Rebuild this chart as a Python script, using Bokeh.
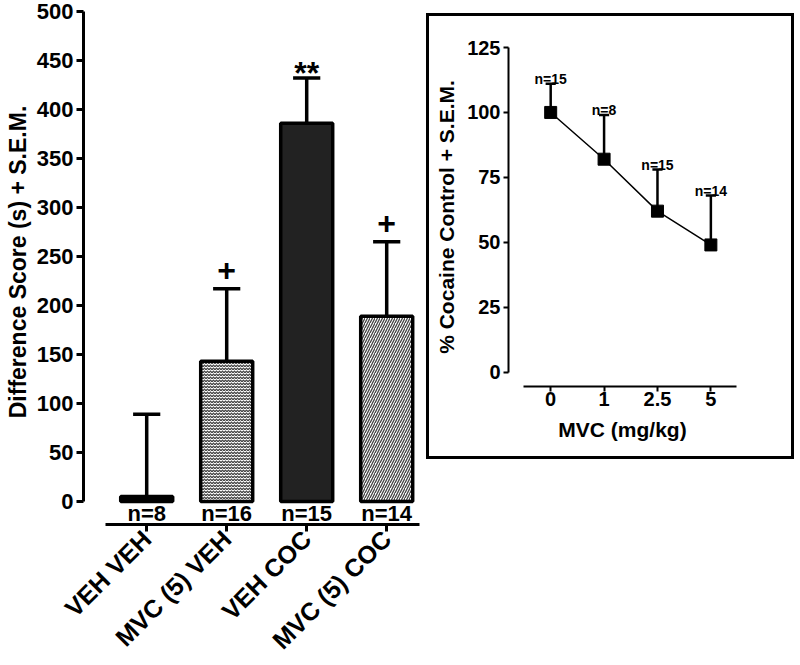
import math
from bokeh.plotting import figure
from bokeh.models import ColumnDataSource, Range1d, FixedTicker
from bokeh.layouts import row
from bokeh.core.properties import value
from bokeh.embed import file_html
from bokeh.resources import INLINE

# ---------------- data: main bar chart ----------------
groups = ["VEH VEH", "MVC (5) VEH", "VEH COC", "MVC (5) COC"]
diff_mean = [5, 143, 386, 189]
diff_upper = [89, 217, 432, 265]
group_n = ["n=8", "n=16", "n=15", "n=14"]
sig_plus = ["", "+", "", "+"]
sig_star = ["", "", "**", ""]
main_yticks = [0, 50, 100, 150, 200, 250, 300, 350, 400, 450, 500]

# ---------------- data: inset ----------------
doses = ["0", "1", "2.5", "5"]
pct_mean = [100, 82, 62, 49]
pct_upper = [111, 99, 78, 68]
dose_n = ["n=15", "n=8", "n=15", "n=14"]
inset_yticks = [0, 25, 50, 75, 100, 125]

# ---------------- styles ----------------
FONT = "Liberation Sans"
bar_fill = ["black", "white", "#222222", "white"]
bar_hatch = [" ", "horizontal_wave", " ", "right_diagonal_line"]
bar_hatch_scale = [4, 3, 5, 5]

xs = list(range(1, len(groups) + 1))
src = ColumnDataSource(dict(
    x=xs, top=diff_mean, upper=diff_upper, n=group_n,
    plus=sig_plus, star=sig_star, fill=bar_fill, hatch=bar_hatch, hs=bar_hatch_scale,
    cl=[x - 0.17 for x in xs], cr=[x + 0.17 for x in xs],
))

p = figure(frame_width=336, frame_height=525, x_range=Range1d(0.21, 4.41), y_range=Range1d(-23.5, 512.2),
           output_backend="svg", toolbar_location=None, title=None,
           min_border_left=83, min_border_right=7, min_border_top=0, min_border_bottom=167)
p.margin = (-32, 0, 0, 0)
p.outline_line_color = None
p.xgrid.grid_line_color = None
p.ygrid.grid_line_color = None

p.vbar(x="x", top="top", bottom=0, width=0.65, source=src, fill_color="fill",
       line_color="black", line_width=3.5, hatch_pattern="hatch", hatch_color="#444444",
       hatch_scale="hs", hatch_weight=1.3)
p.segment(x0="x", y0="top", x1="x", y1="upper", source=src, line_color="black", line_width=3.5)
p.segment(x0="cl", y0="upper", x1="cr", y1="upper", source=src, line_color="black", line_width=3.5)

p.text(x="x", y=0, text="n", source=src, y_offset=12, text_align="center",
       text_baseline="middle", text_font=value(FONT), text_font_style="bold",
       text_font_size="22px", text_color="black")
p.text(x="x", y="upper", text="plus", source=src, y_offset=-19, text_align="center",
       text_baseline="middle", text_font=value(FONT), text_font_style="bold",
       text_font_size="32px", text_color="black")
p.text(x="x", y="upper", text="star", source=src, y_offset=-5, text_align="center",
       text_baseline="alphabetic", text_font=value(FONT), text_font_style="bold",
       text_font_size="32px", text_color="black")

xa = p.xaxis[0]
xa.ticker = FixedTicker(ticks=xs)
xa.major_label_overrides = {x: g for x, g in zip(xs, groups)}
xa.major_label_orientation = math.pi / 4
xa.bounds = (0.485, 4.41)
xa.major_label_standoff = 3
ya = p.yaxis[0]
ya.ticker = FixedTicker(ticks=main_yticks)
ya.bounds = (0, 500)
ya.axis_label = "Difference Score (s) + S.E.M."
ya.axis_label_standoff = 3
ya.major_label_standoff = 3
for ax in (xa, ya):
    ax.axis_line_width = 3
    ax.major_tick_line_width = 3
    ax.major_tick_out = 7
    ax.major_tick_in = 0
    ax.minor_tick_line_color = None
    ax.major_label_text_font = FONT
    ax.major_label_text_font_style = "bold"
    ax.major_label_text_color = "black"
    ax.axis_label_text_font = FONT
    ax.axis_label_text_font_style = "bold"
    ax.axis_label_text_color = "black"
xa.major_label_text_font_size = "25px"
ya.major_label_text_font_size = "22px"
ya.axis_label_text_font_size = "23px"

# ---------------- inset ----------------
ix = list(range(len(doses)))
isrc = ColumnDataSource(dict(
    x=ix, y=pct_mean, upper=pct_upper, n=dose_n,
    cl=[x - 0.095 for x in ix], cr=[x + 0.095 for x in ix],
))
q = figure(frame_width=222, frame_height=333, x_range=Range1d(-0.79, 3.48), y_range=Range1d(-5.5, 125),
           output_backend="svg", toolbar_location=None, title=None,
           min_border_left=79, min_border_right=61, min_border_top=31, min_border_bottom=76)
q.styles = {"border": "3px solid black"}
q.margin = (13, 0, 0, 0)
q.outline_line_color = None
q.xgrid.grid_line_color = None
q.ygrid.grid_line_color = None

q.segment(x0="x", y0="y", x1="x", y1="upper", source=isrc, line_color="black", line_width=2.5)
q.segment(x0="cl", y0="upper", x1="cr", y1="upper", source=isrc, line_color="black", line_width=2.5)
q.line(x="x", y="y", source=isrc, line_color="black", line_width=1.5)
q.scatter(x="x", y="y", source=isrc, marker="square", size=12, fill_color="black", line_color="black")
q.text(x="x", y="upper", text="n", source=isrc, y_offset=-5, text_align="center",
       text_baseline="alphabetic", text_font=value(FONT), text_font_style="bold",
       text_font_size="14px", text_color="black")

qx = q.xaxis[0]
qx.ticker = FixedTicker(ticks=ix)
qx.major_label_overrides = {x: d for x, d in zip(ix, doses)}
qx.bounds = (-0.5, 3.48)
qx.axis_label = "MVC (mg/kg)"
qx.axis_label_standoff = 9
qx.major_label_standoff = 0
qy = q.yaxis[0]
qy.ticker = FixedTicker(ticks=inset_yticks)
qy.bounds = (0, 125)
qy.axis_label = "% Cocaine Control + S.E.M."
qy.axis_label_standoff = 6
qy.major_label_standoff = 3
for ax in (qx, qy):
    ax.axis_line_width = 2
    ax.major_tick_line_width = 2
    ax.major_tick_out = 5
    ax.major_tick_in = 0
    ax.minor_tick_line_color = None
    ax.major_label_text_font = FONT
    ax.major_label_text_font_style = "bold"
    ax.major_label_text_font_size = "20px"
    ax.major_label_text_color = "black"
    ax.axis_label_text_font = FONT
    ax.axis_label_text_font_style = "bold"
    ax.axis_label_text_font_size = "21px"
    ax.axis_label_text_color = "black"

layout = row(p, q)
open("out.html", "w").write(file_html(layout, INLINE))
